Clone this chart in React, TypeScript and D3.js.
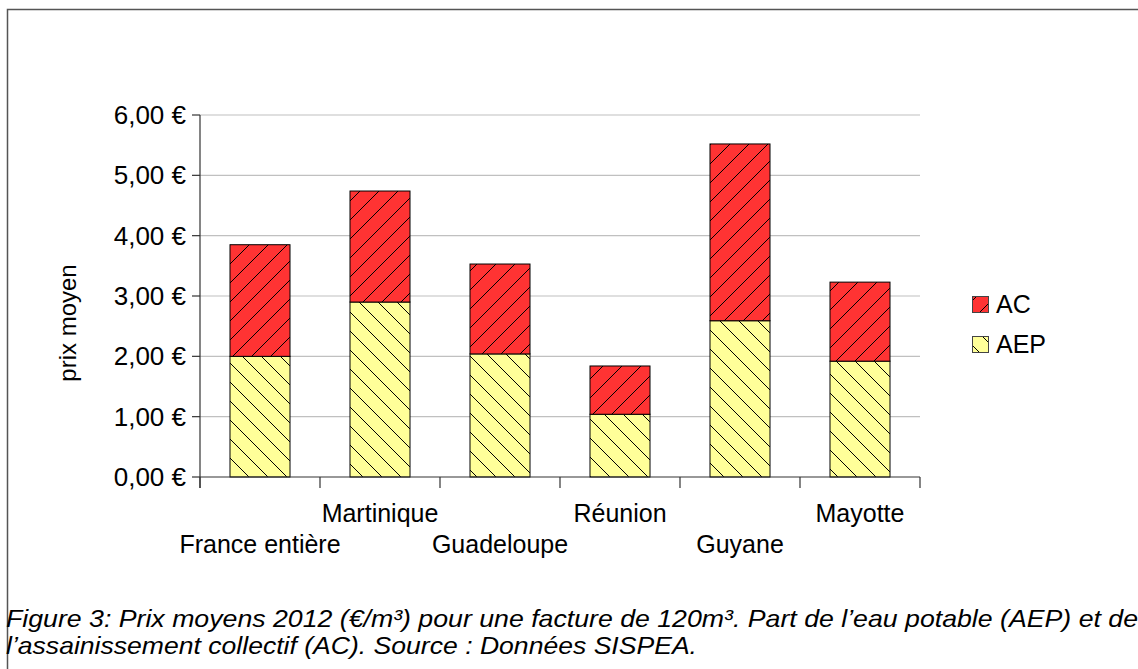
import React from "react";
import * as d3 from "d3";

const categories = ["France entière", "Martinique", "Guadeloupe", "Réunion", "Guyane", "Mayotte"];
const aep = [2.0, 2.9, 2.04, 1.04, 2.59, 1.92];
const ac = [1.85, 1.84, 1.49, 0.8, 2.93, 1.31];
const yTicks = [0, 1, 2, 3, 4, 5, 6];
const captionLines = [
  "Figure 3: Prix moyens 2012 (€/m³) pour une facture de 120m³. Part de l’eau potable (AEP) et de",
  "l’assainissement collectif (AC). Source : Données SISPEA.",
];
const captionWidths = [1132, 691];

const font = "'Liberation Sans', Arial, sans-serif";

export default function App() {
  const left = 200, right = 920, top = 115, bottom = 477;

  const x = d3.scaleBand().domain(categories).range([left, right]).paddingInner(0.5).paddingOuter(0.25);
  const y = d3.scaleLinear().domain([0, 6]).range([bottom, top]);
  const fmt = (v: number) => v.toFixed(2).replace(".", ",") + " €";

  const rows = categories.map((c, i) => ({ c, aep: aep[i], ac: ac[i] }));
  const stack = d3.stack<any>().keys(["aep", "ac"])(rows);
  const fills: Record<string, string> = { aep: "url(#hatchAEP)", ac: "url(#hatchAC)" };

  return (
    <svg width={1138} height={669} style={{ position: "absolute", left: 0, top: 0 }} fontFamily={font}>
      <defs>
        <pattern id="hatchAC" patternUnits="userSpaceOnUse" width={19} height={19}>
          <rect width={19} height={19} fill="#ff3333" />
          <path d="M-2,2 L2,-2 M0,19 L19,0 M17,21 L21,17" stroke="#000" strokeWidth={1} />
        </pattern>
        <pattern id="hatchAEP" patternUnits="userSpaceOnUse" width={19} height={19}>
          <rect width={19} height={19} fill="#ffff99" />
          <path d="M-2,17 L2,21 M0,0 L19,19 M17,-2 L21,2" stroke="#000" strokeWidth={1} />
        </pattern>
      </defs>
      <rect x={0} y={0} width={1138} height={669} fill="#fff" />
      <rect x={7.5} y={9.5} width={1140} height={700} fill="none" stroke="#555" strokeWidth={1.5} />

      {yTicks.map((t) => (
        <g key={t}>
          {t > 0 && <line x1={left} x2={right} y1={y(t)} y2={y(t)} stroke="#c0c0c0" strokeWidth={1.2} />}
          <line x1={left - 8} x2={left} y1={y(t)} y2={y(t)} stroke="#333" strokeWidth={1.2} />
          <text x={left - 14} y={y(t)} dy="0.35em" textAnchor="end" fontSize={26} fill="#000">
            {fmt(t)}
          </text>
        </g>
      ))}

      {stack.map((s) => (
        <g key={s.key}>
          {s.map((d, i) => (
            <rect
              key={i}
              x={x(categories[i])}
              width={x.bandwidth()}
              y={y(d[1])}
              height={y(d[0]) - y(d[1])}
              fill={fills[s.key]}
              stroke="#000"
              strokeWidth={1}
            />
          ))}
        </g>
      ))}

      <line x1={left} x2={left} y1={top} y2={bottom + 11} stroke="#333" strokeWidth={1.2} />
      <line x1={left} x2={right} y1={bottom} y2={bottom} stroke="#333" strokeWidth={1.2} />
      {d3.range(categories.length + 1).map((i) => {
        const tx = left + i * x.step();
        return <line key={i} x1={tx} x2={tx} y1={bottom} y2={bottom + 11} stroke="#333" strokeWidth={1.2} />;
      })}
      {categories.map((c, i) => (
        <text
          key={c}
          x={x(c)! + x.bandwidth() / 2}
          y={i % 2 === 1 ? 522 : 553}
          textAnchor="middle"
          fontSize={25}
          fill="#000"
        >
          {c}
        </text>
      ))}

      <text transform="translate(76,323) rotate(-90)" textAnchor="middle" fontSize={24} fill="#000">
        prix moyen
      </text>

      {[
        { key: "ac", label: "AC", yy: 296 },
        { key: "aep", label: "AEP", yy: 336 },
      ].map((l) => (
        <g key={l.key}>
          <rect x={972.5} y={l.yy + 0.5} width={16} height={16} fill={fills[l.key]} stroke="#444" strokeWidth={1} />
          <text x={996} y={l.yy + 17} fontSize={25} fill="#000">
            {l.label}
          </text>
        </g>
      ))}

      {captionLines.map((t, i) => (
        <text key={i} x={6} y={627 + i * 27} fontSize={24} fontStyle="italic" fill="#000"
          textLength={captionWidths[i]} lengthAdjust="spacingAndGlyphs">
          {t}
        </text>
      ))}
    </svg>
  );
}
